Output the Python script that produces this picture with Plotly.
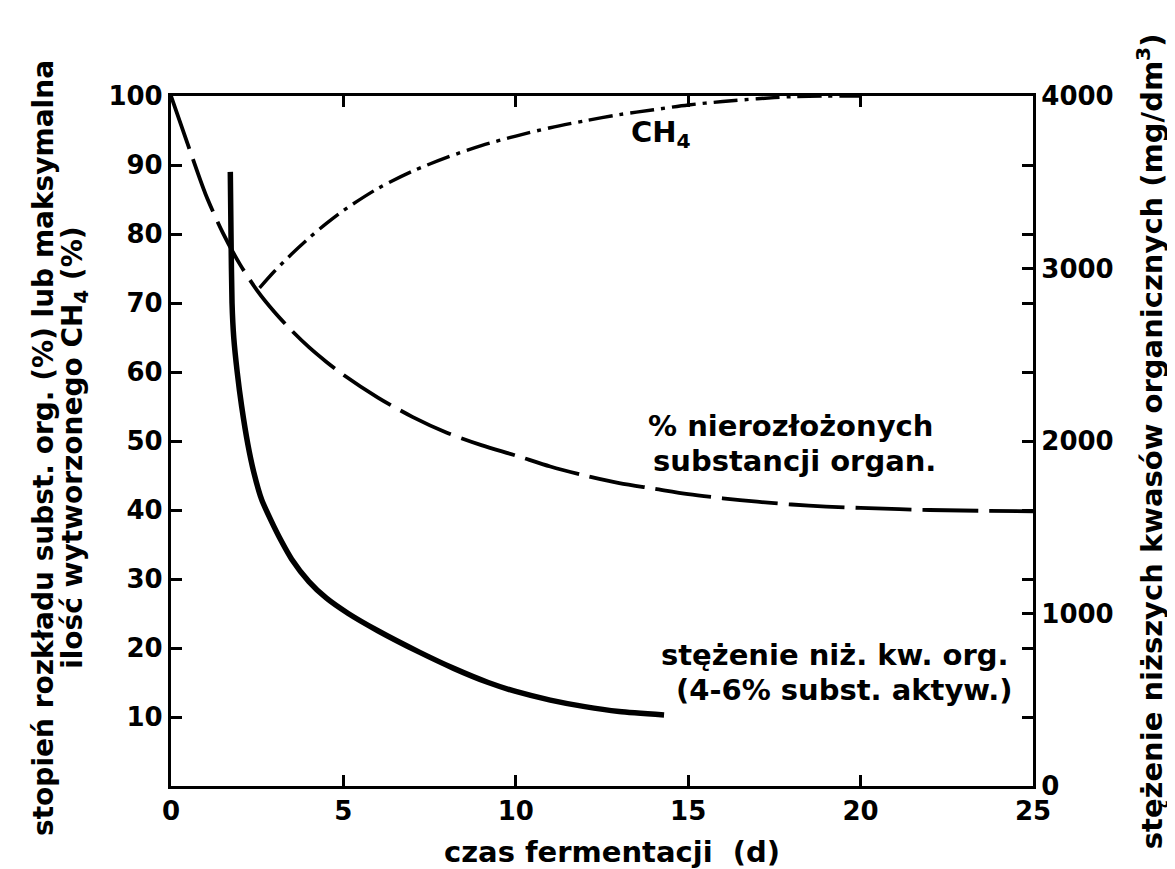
import plotly.graph_objects as go

# ---- data ----
days_undecomposed = [0, 0.5, 1, 1.5, 2, 2.5, 3, 3.5, 4, 4.5, 5, 6, 7, 8, 9, 10, 11, 12, 13, 14,
                     15, 16, 17, 18, 19, 20, 22, 25]
undecomposed_pct = [100, 92.8, 85.8, 80.2, 75.6, 71.8, 68.7, 66, 63.6, 61.5, 59.6, 56.3, 53.5,
                    51.2, 49.4, 47.9, 46.3, 45, 43.9, 43.1, 42.3, 41.7, 41.2, 40.8, 40.5, 40.3,
                    40, 39.8]

days_ch4 = [2.57, 3, 3.5, 4, 4.5, 5, 6, 7, 8, 9, 10, 11, 12, 13, 14, 15, 16, 17, 18, 19, 20]
ch4_pct = [72.2, 74.6, 77.1, 79.4, 81.5, 83.4, 86.6, 89.1, 91.1, 92.8, 94.2, 95.4, 96.4, 97.3,
           98.0, 98.7, 99.2, 99.6, 99.9, 100, 100]

days_acid = [1.72, 1.74, 1.77, 1.82, 1.92, 2.05, 2.23, 2.4, 2.63, 2.9, 3.2, 3.5, 4, 4.5, 5.14,
             6, 7.2, 8.2, 9.2, 10, 11, 12, 13, 14.3]
acid_mg = [3560, 3200, 2800, 2600, 2400, 2200, 1980, 1820, 1660, 1540, 1420, 1315, 1185, 1090,
           1000, 900, 776, 682, 600, 548, 498, 460, 432, 412]

x_ticks = [0, 5, 10, 15, 20, 25]
y_ticks = [10, 20, 30, 40, 50, 60, 70, 80, 90, 100]
y2_ticks = [0, 1000, 2000, 3000, 4000]

FONT = "DejaVu Sans"
fig = go.Figure()

fig.add_trace(go.Scatter(x=days_undecomposed, y=undecomposed_pct, mode="lines",
                         line=dict(color="black", width=3.8, dash="56px,11px",
                                   shape="spline", smoothing=0.8),
                         showlegend=False))
fig.add_trace(go.Scatter(x=days_ch4, y=ch4_pct, mode="lines",
                         line=dict(color="black", width=3.4, dash="24px,7px,4px,7px",
                                   shape="spline", smoothing=0.8),
                         showlegend=False))
fig.add_trace(go.Scatter(x=days_acid, y=acid_mg, mode="lines", yaxis="y2",
                         line=dict(color="black", width=5.5, shape="spline", smoothing=0.6),
                         showlegend=False))

tick_font = dict(family=FONT, size=26, color="black", weight="bold")
axis_common = dict(showline=True, linecolor="black", linewidth=3.2, ticks="inside",
                   ticklen=11, tickwidth=2.5, tickcolor="black", showgrid=False,
                   zeroline=False, tickfont=tick_font)

fig.update_layout(
    width=1175, height=869,
    margin=dict(l=163, r=150, t=88, b=91),
    plot_bgcolor="white", paper_bgcolor="white",
    font=dict(family=FONT, color="black"),
    xaxis=dict(range=[0, 25], tickvals=x_ticks, mirror="ticks", **axis_common),
    yaxis=dict(range=[0, 100], tickvals=y_ticks, mirror="ticks", **axis_common),
    yaxis2=dict(range=[0, 4000], tickvals=y2_ticks, overlaying="y", side="right",
                **axis_common),
)

ann_font = dict(family=FONT, size=29, color="black", weight="bold")
left_font = dict(family=FONT, size=28, color="black", weight="bold")
annotations = [
    dict(text="czas fermentacji  (d)", xref="paper", yref="paper", x=0.512, y=-0.095,
         xanchor="center", yanchor="middle", font=ann_font),
    dict(text="stopień rozkładu subst. org. (%) lub maksymalna", xref="paper", yref="paper",
         x=-0.1473, y=0.49, textangle=-90, xanchor="center", yanchor="middle",
         font=left_font),
    dict(text="ilość wytworzonego CH<sub>4</sub> (%)", xref="paper", yref="paper",
         x=-0.1114, y=0.49, textangle=-90, xanchor="center", yanchor="middle",
         font=left_font),
    dict(text="stężenie niższych kwasów organicznych (mg/dm<sup>3</sup>)", xref="paper",
         yref="paper", x=1.136, y=0.50, textangle=-90, xanchor="center", yanchor="middle",
         font=ann_font),
    dict(text="CH<sub>4</sub>", x=14.2, y=94.5, xref="x", yref="y", xanchor="center",
         yanchor="middle", font=ann_font),
    dict(text="% nierozłożonych", x=13.78, y=52.2, xref="x", yref="y",
         xanchor="left", yanchor="middle", font=ann_font),
    dict(text="substancji organ.", x=13.92, y=47.1, xref="x", yref="y",
         xanchor="left", yanchor="middle", font=ann_font),
    dict(text="stężenie niż. kw. org.", x=24.36, y=19.0, xref="x", yref="y",
         xanchor="right", yanchor="middle", font=ann_font),
    dict(text="(4-6% subst. aktyw.)", x=24.48, y=13.9, xref="x", yref="y",
         xanchor="right", yanchor="middle", font=ann_font),
]
for a in annotations:
    a["showarrow"] = False
fig.update_layout(annotations=annotations)

fig.write_html("out.html")
